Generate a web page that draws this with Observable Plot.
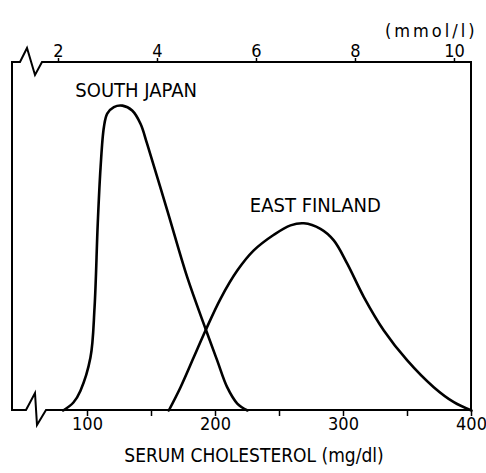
<!DOCTYPE html>
<html>
<head>
<meta charset="utf-8">
<script src="https://cdn.jsdelivr.net/npm/d3@7"></script>
<script src="https://cdn.jsdelivr.net/npm/@observablehq/plot@0.6"></script>
<style>
  html, body { margin: 0; padding: 0; background: #fff; }
  #chart svg { display: block; }
</style>
</head>
<body>
<div id="chart"></div>
<script>
// ---- Data ----
const MG_PER_MMOL = 38.67;
const xStart = 41.4; // left edge of the (broken) axis, mg/dl

const southJapanX = [81, 89, 94.5, 102.3, 105.5, 108, 110.2, 112.8, 115.4, 120.6, 127.3, 134.9, 141.4, 146.6, 162.3, 177.9, 192.2, 201.3, 209.1, 217, 225];
const southJapanY = [0, 2.3, 5.7, 15.2, 29.6, 53.7, 69.8, 81.4, 85.3, 87.2, 87.6, 86.2, 82.4, 76.6, 57.5, 38.3, 23.5, 14.4, 6.7, 2, 0];

const eastFinlandX = [163.5, 172.7, 183, 192.2, 203.9, 217, 229.9, 245.6, 258.6, 269, 282, 292.4, 302.9, 315.9, 331.5, 349.8, 370.5, 386.2, 400];
const eastFinlandY = [0, 6.7, 15.3, 23, 32.1, 40.2, 46, 50.5, 53.2, 53.8, 52.2, 48.9, 42.2, 32.6, 23, 14.4, 6.7, 2.4, 0];

const mgTicks = [100, 200, 300, 400];
const mgMinorTicks = [150, 250, 350];
const mmolTicks = [2, 4, 6, 8, 10];

const seriesLabels = ["SOUTH JAPAN", "EAST FINLAND"];
const labelX = [138, 278];
const labelY = [92, 59];

const xTitle = "SERUM CHOLESTEROL (mg/dl)";
const topUnit = "(mmol/l)";

// ---- Build tables ----
const southJapan = southJapanX.map((x, i) => ({x, y: southJapanY[i]}));
const eastFinland = eastFinlandX.map((x, i) => ({x, y: eastFinlandY[i]}));
const labels = seriesLabels.map((t, i) => ({t, x: labelX[i], y: labelY[i]}));

const FONT = "'Liberation Sans Narrow', 'Arial Narrow', 'DejaVu Sans Condensed', 'Liberation Sans', sans-serif";

// Frame with axis-break zigzags
function frameMark(index, scales, values, dims) {
  const {width, height, marginLeft, marginRight, marginTop, marginBottom} = dims;
  const L = marginLeft, R = width - marginRight, T = marginTop, B = height - marginBottom;
  const p = d3.path();
  p.moveTo(L, B);
  p.lineTo(L, T);
  p.lineTo(L + 8, T);
  p.lineTo(L + 15, T - 14);
  p.lineTo(L + 23, T + 13);
  p.lineTo(L + 30, T);
  p.lineTo(R, T);
  p.lineTo(R, B);
  p.lineTo(L + 34, B);
  p.lineTo(L + 25, B + 15);
  p.lineTo(L + 23, B - 17);
  p.lineTo(L + 14, B);
  p.closePath();
  const path = d3.create("svg:path")
    .attr("d", p.toString())
    .attr("fill", "none")
    .attr("stroke", "#000")
    .attr("stroke-width", 2)
    .attr("stroke-linejoin", "miter");
  return path.node();
}

const chart = Plot.plot({
  width: 486,
  height: 473,
  marginLeft: 12,
  marginRight: 15,
  marginTop: 62,
  marginBottom: 63,
  style: {fontFamily: FONT, color: "#000", background: "#fff"},
  x: {domain: [xStart, 400], axis: null},
  y: {domain: [0, 100], axis: null},
  marks: [
    frameMark,
    Plot.axisX({anchor: "bottom", ticks: mgTicks, tickSize: 6, tickPadding: 1, fontSize: 18, label: null, strokeWidth: 1.5}),
    Plot.axisX({anchor: "bottom", ticks: mgMinorTicks, tickSize: 6, tickFormat: () => "", label: null, strokeWidth: 1.5}),
    Plot.axisX({anchor: "top", ticks: mmolTicks.map(m => m * MG_PER_MMOL), tickFormat: d => Math.round(d / MG_PER_MMOL), tickSize: 5, tickPadding: 1, fontSize: 18, label: null, strokeWidth: 1.5}),
    Plot.line(southJapan, {x: "x", y: "y", curve: "catmull-rom", stroke: "#000", strokeWidth: 2.6}),
    Plot.line(eastFinland, {x: "x", y: "y", curve: "catmull-rom", stroke: "#000", strokeWidth: 2.6}),
    Plot.text(labels, {x: "x", y: "y", text: "t", fontSize: 20, fill: "#000", textAnchor: "middle"}),
    Plot.text([xTitle], {frameAnchor: "bottom", dx: 12, dy: 51, fontSize: 19, fill: "#000", textAnchor: "middle"}),
    Plot.text([topUnit], {frameAnchor: "top-right", dx: 6, dy: -38, fontSize: 18, fill: "#000", textAnchor: "end"})
  ]
});

// widen spacing of the unit label, as in the reference
d3.select(chart).selectAll("text").filter(function() { return this.textContent === topUnit; })
  .attr("letter-spacing", 3);

document.getElementById("chart").appendChild(chart);
</script>
</body>
</html>
